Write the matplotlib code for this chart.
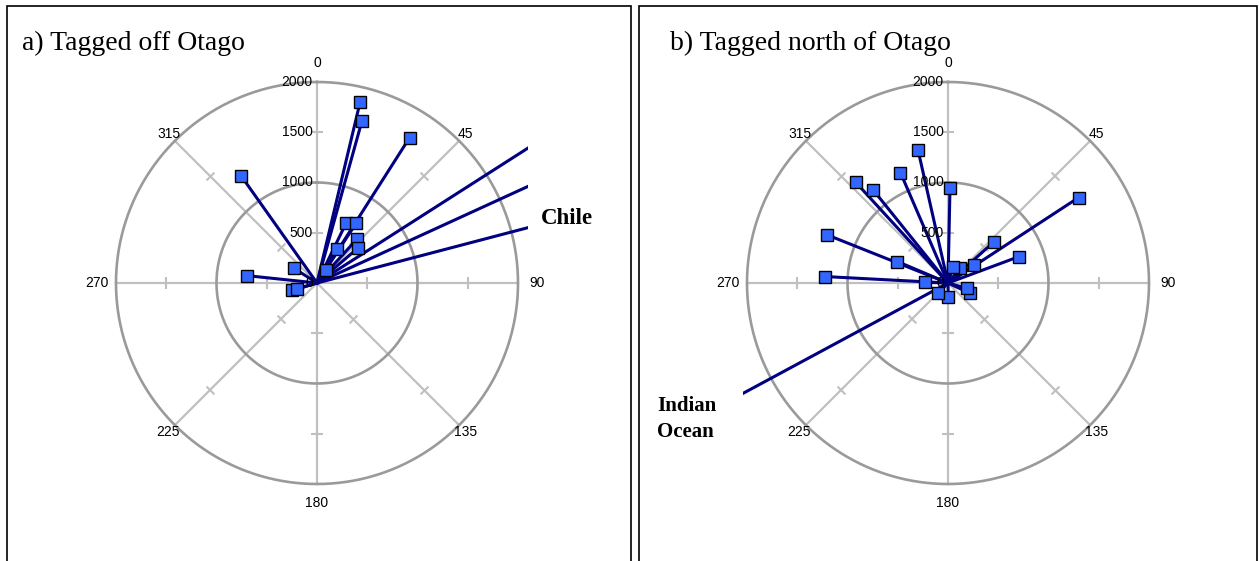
import numpy as np
import matplotlib
matplotlib.use("Agg")
import matplotlib.pyplot as plt
from matplotlib.patches import Rectangle
from matplotlib.transforms import Bbox, TransformedBbox

# recapture bearings (deg, clockwise from north) and distances (km)
a_bearing = [13.4, 15.5, 32.5, 324.7, 25.9, 33.2, 42.3, 49.5, 30.3, 34.7, 302.6, 276.0, 254.0, 253.0]
a_dist = [1854, 1674, 1716, 1303, 664, 713, 590, 535, 390, 158, 273, 697, 260, 210]
a_far_bearing = [57.4, 65.4, 75.3]      # Chile
a_far_dist = [9000, 9000, 9000]

b_bearing = [347.3, 336.7, 317.5, 321.2, 1.2, 291.7, 293.0, 273.0, 271.7, 48.1,
             69.6, 55.6, 39.2, 18.0, 115.0, 179.0, 223.0, 106.0, 56.8]
b_dist = [1356, 1195, 1361, 1193, 947, 1299, 546, 1222, 230, 618,
          754, 319, 190, 172, 243, 137, 141, 194, 1553]
b_far_bearing = [241.7]                 # Indian Ocean
b_far_dist = [9000]

ring_km = [1000, 2000]
tick_km = [500, 1500]
radial_labels = [0, 500, 1000, 1500, 2000]
spokes = [0, 45, 90, 135, 180, 225, 270, 315]

W, H = 1259, 561
fig = plt.figure(figsize=(W / 100, H / 100), dpi=100)

ring_col = "#9a9a9a"
spoke_col = "#c0c0c0"
line_col = "#000080"
mark_col = "#3366ff"


def fx(x):
    return x / W


def fy(y):
    return 1 - y / H


def make_panel(cx, cy, bearing, dist, far_bearing, far_dist, clip_px):
    rad = 201
    ax = fig.add_axes([fx(cx - rad), fy(cy + rad), 2 * rad / W, 2 * rad / H],
                      projection="polar")
    ax.set_theta_zero_location("N")
    ax.set_theta_direction(-1)
    ax.set_ylim(0, 2000)
    ax.set_xticks([])
    ax.set_yticks([])
    ax.grid(False)
    ax.spines["polar"].set_visible(False)
    ax.patch.set_facecolor("none")

    # grid: spokes, rings, small ticks on the spokes
    th = np.linspace(0, 2 * np.pi, 361)
    for s in spokes:
        t = np.deg2rad(s)
        ax.plot([t, t], [0, 2000], color=spoke_col, lw=1.6, clip_on=False, zorder=1)
        for r in tick_km:
            ax.plot([t], [r], marker=(2, 0, 90 - s), ms=8, mew=1.5,
                    color=spoke_col, clip_on=False, zorder=1)
    for r in ring_km:
        ax.plot(th, np.full_like(th, r), color=ring_col, lw=1.9, clip_on=False, zorder=1)

    # radial labels along the north spoke
    for r in radial_labels:
        ax.annotate(str(r), (0, r), xytext=(-3, 0), textcoords="offset points",
                    ha="right", va="center", fontsize=10, family="Liberation Sans",
                    zorder=5)

    # bearing labels round the outside
    for s in spokes:
        rr = 2190 if s % 90 == 0 else 2090
        ax.text(np.deg2rad(s), rr, str(s), ha="center", va="center",
                fontsize=10, family="Liberation Sans", clip_on=False)

    # long-distance recaptures run off the plot
    box = TransformedBbox(Bbox.from_extents(fx(clip_px[0]), fy(clip_px[3]),
                                            fx(clip_px[1]), fy(clip_px[2])),
                          fig.transFigure)
    for b, d in zip(far_bearing, far_dist):
        ln, = ax.plot([0, np.deg2rad(b)], [0, d], color=line_col, lw=2.2, zorder=3)
        ln.set_clip_path(None)
        ln.set_clip_box(box)

    for b, d in zip(bearing, dist):
        ax.plot([0, np.deg2rad(b)], [0, d], color=line_col, lw=2.2,
                clip_on=False, zorder=3)
    ax.plot(np.deg2rad(bearing), dist, ls="none", marker="s", ms=9.3,
            mfc=mark_col, mec="black", mew=1, clip_on=False, zorder=4)
    return ax


make_panel(317, 283, a_bearing, a_dist, a_far_bearing, a_far_dist, (100, 528, 60, 500))
make_panel(948, 283, b_bearing, b_dist, b_far_bearing, b_far_dist, (743, 1180, 60, 500))

# panel frames
fig.patches.append(Rectangle((fx(7), fy(580)), fx(631) - fx(7), fy(6) - fy(580),
                             transform=fig.transFigure, fill=False, ec="black", lw=1.2))
fig.patches.append(Rectangle((fx(639), fy(580)), fx(1257) - fx(639), fy(6) - fy(580),
                             transform=fig.transFigure, fill=False, ec="black", lw=1.2))

serif = "Liberation Serif"
fig.text(fx(22), fy(43), "a) Tagged off Otago", fontsize=20, family=serif,
         ha="left", va="center")
fig.text(fx(670), fy(43), "b) Tagged north of Otago", fontsize=20, family=serif,
         ha="left", va="center")
fig.text(fx(541), fy(218), "Chile", fontsize=16.5, family=serif, weight="bold",
         ha="left", va="center")
fig.text(fx(657), fy(419), "Indian\nOcean", fontsize=15, family=serif, weight="bold",
         ha="left", va="center", linespacing=1.35)

fig.savefig("out.png", dpi=100)
